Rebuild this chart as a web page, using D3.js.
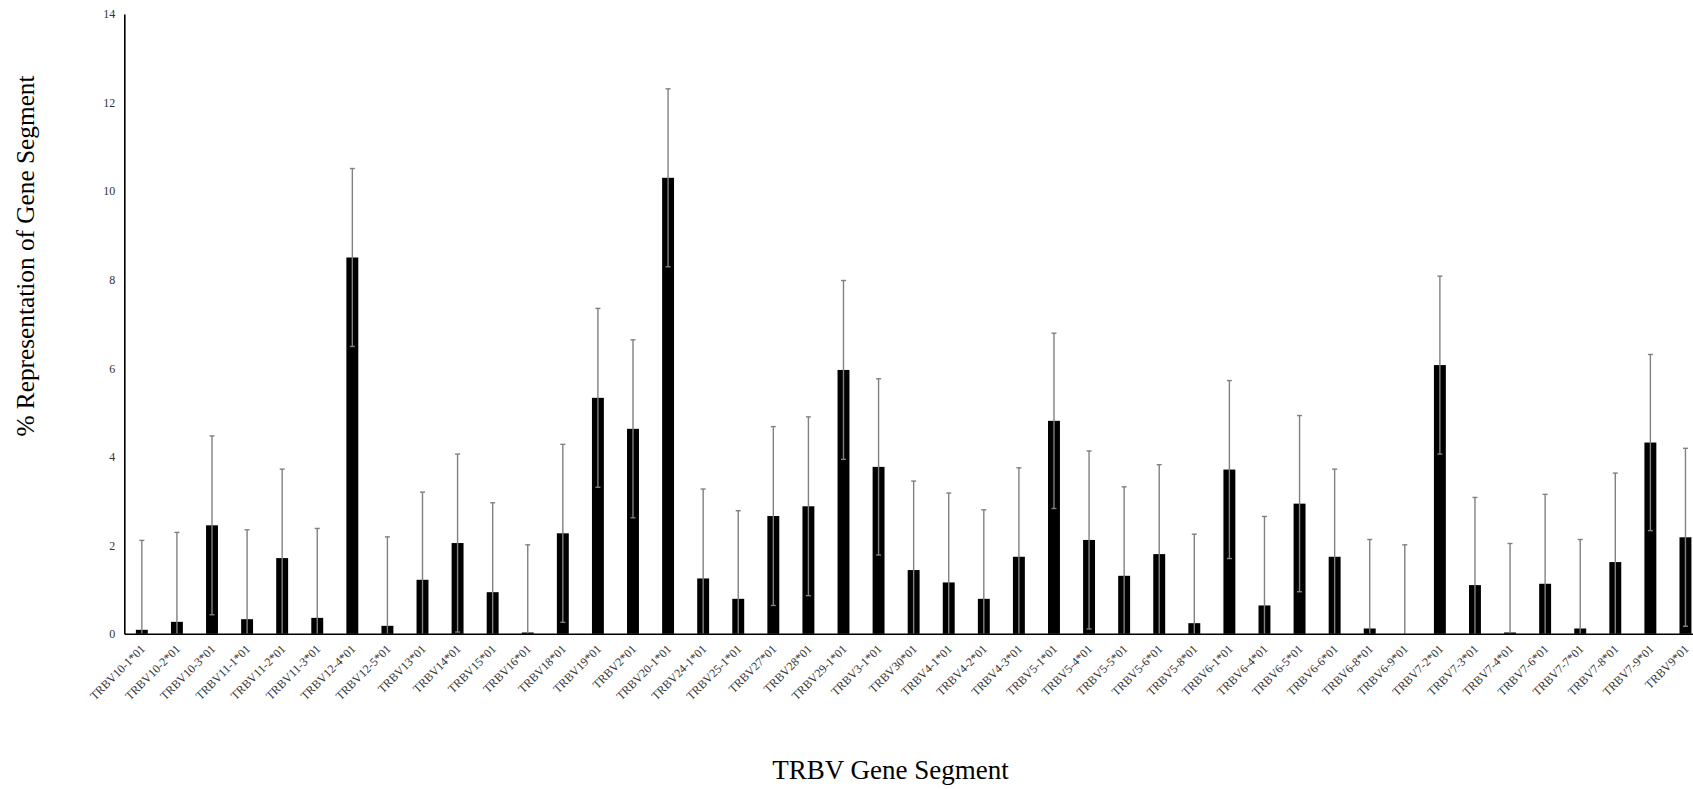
<!DOCTYPE html>
<html>
<head>
<meta charset="utf-8">
<script src="https://cdn.jsdelivr.net/npm/d3@7"></script>
<style>
  html, body { margin: 0; padding: 0; background: #fff; }
  svg { display: block; }
</style>
</head>
<body>
<svg id="chart" width="1693" height="789"></svg>
<script>
// TRBV gene segment usage: mean % representation with error bars
const categories = [
  "TRBV10-1*01", "TRBV10-2*01", "TRBV10-3*01", "TRBV11-1*01", "TRBV11-2*01",
  "TRBV11-3*01", "TRBV12-4*01", "TRBV12-5*01", "TRBV13*01", "TRBV14*01",
  "TRBV15*01", "TRBV16*01", "TRBV18*01", "TRBV19*01", "TRBV2*01",
  "TRBV20-1*01", "TRBV24-1*01", "TRBV25-1*01", "TRBV27*01", "TRBV28*01",
  "TRBV29-1*01", "TRBV3-1*01", "TRBV30*01", "TRBV4-1*01", "TRBV4-2*01",
  "TRBV4-3*01", "TRBV5-1*01", "TRBV5-4*01", "TRBV5-5*01", "TRBV5-6*01",
  "TRBV5-8*01", "TRBV6-1*01", "TRBV6-4*01", "TRBV6-5*01", "TRBV6-6*01",
  "TRBV6-8*01", "TRBV6-9*01", "TRBV7-2*01", "TRBV7-3*01", "TRBV7-4*01",
  "TRBV7-6*01", "TRBV7-7*01", "TRBV7-8*01", "TRBV7-9*01", "TRBV9*01"
];

const values = [
  0.09, 0.27, 2.45, 0.33, 1.71,
  0.36, 8.50, 0.18, 1.22, 2.05,
  0.94, 0.03, 2.27, 5.33, 4.63,
  10.30, 1.25, 0.79, 2.66, 2.88,
  5.96, 3.77, 1.44, 1.16, 0.79,
  1.74, 4.81, 2.12, 1.31, 1.80,
  0.24, 3.71, 0.64, 2.94, 1.74,
  0.12, 0.00, 6.07, 1.10, 0.03,
  1.13, 0.12, 1.62, 4.32, 2.18
];

const errors = [
  2.02, 2.02, 2.02, 2.02, 2.01,
  2.02, 2.01, 2.01, 1.98, 2.01,
  2.02, 1.98, 2.01, 2.02, 2.01,
  2.01, 2.02, 1.99, 2.02, 2.02,
  2.02, 1.99, 2.01, 2.02, 2.01,
  2.01, 1.98, 2.01, 2.01, 2.02,
  2.01, 2.01, 2.01, 1.99, 1.98,
  2.01, 2.01, 2.01, 1.98, 2.01,
  2.02, 2.01, 2.01, 1.99, 2.01
];

const yTicks = [0, 2, 4, 6, 8, 10, 12, 14];

const yTitle = "% Representation of Gene Segment";
const xTitle = "TRBV Gene Segment";

const serif = "'Liberation Serif', 'Times New Roman', Times, serif";
const svg = d3.select("#chart");

const plotLeft = 124.3, plotRight = 1703, plotTop = 14, plotBottom = 633.8;

const x = d3.scaleBand()
  .domain(categories)
  .range([plotLeft, plotRight])
  .paddingInner(0.66)
  .paddingOuter(0.33);

const y = d3.scaleLinear()
  .domain([0, 14])
  .range([plotBottom, plotTop]);

const rows = categories.map((c, i) => ({ cat: c, v: values[i], e: errors[i] }));

// Bars
svg.append("g")
  .selectAll("rect")
  .data(rows)
  .join("rect")
  .attr("x", d => x(d.cat))
  .attr("y", d => y(d.v))
  .attr("width", x.bandwidth())
  .attr("height", d => y(0) - y(d.v))
  .attr("fill", "#000");

// Error bars (lower end clipped at zero)
const eb = svg.append("g")
  .attr("stroke", "#808080")
  .attr("stroke-width", 1.4)
  .selectAll("g")
  .data(rows)
  .join("g")
  .attr("transform", d => `translate(${x(d.cat) + x.bandwidth() / 2},0)`);

eb.append("line")
  .attr("y1", d => y(Math.max(0, d.v - d.e)))
  .attr("y2", d => y(d.v + d.e));

eb.append("line")
  .attr("x1", -2.5).attr("x2", 2.5)
  .attr("y1", d => y(d.v + d.e))
  .attr("y2", d => y(d.v + d.e));

eb.filter(d => d.v - d.e > 0)
  .append("line")
  .attr("x1", -2.5).attr("x2", 2.5)
  .attr("y1", d => y(d.v - d.e))
  .attr("y2", d => y(d.v - d.e));

// Y axis
const yAxis = svg.append("g")
  .attr("transform", `translate(${plotLeft},0)`)
  .call(d3.axisLeft(y).tickValues(yTicks).tickSize(0).tickPadding(9).tickFormat(d3.format("d")));
yAxis.select(".domain").attr("stroke", "#000").attr("stroke-width", 1.6);
yAxis.selectAll("text")
  .attr("font-family", serif)
  .attr("font-size", 12)
  .attr("fill", "#333");

// X axis
const xAxis = svg.append("g")
  .attr("transform", `translate(0,${plotBottom})`)
  .call(d3.axisBottom(x).tickSize(0).tickPadding(0));
xAxis.select(".domain").attr("stroke", "#000").attr("stroke-width", 1.6);
xAxis.selectAll(".tick text")
  .attr("font-family", serif)
  .attr("font-size", 12)
  .attr("fill", "#333")
  .attr("text-anchor", "end")
  .attr("dy", null)
  .attr("y", 0)
  .attr("transform", "translate(4,16) rotate(-45)");

// Axis titles
svg.append("text")
  .attr("transform", "translate(34,256) rotate(-90)")
  .attr("text-anchor", "middle")
  .attr("font-family", serif)
  .attr("font-size", 25.3)
  .attr("fill", "#000")
  .text(yTitle);

svg.append("text")
  .attr("x", 890.5)
  .attr("y", 779)
  .attr("text-anchor", "middle")
  .attr("font-family", serif)
  .attr("font-size", 27)
  .attr("fill", "#000")
  .text(xTitle);
</script>
</body>
</html>
